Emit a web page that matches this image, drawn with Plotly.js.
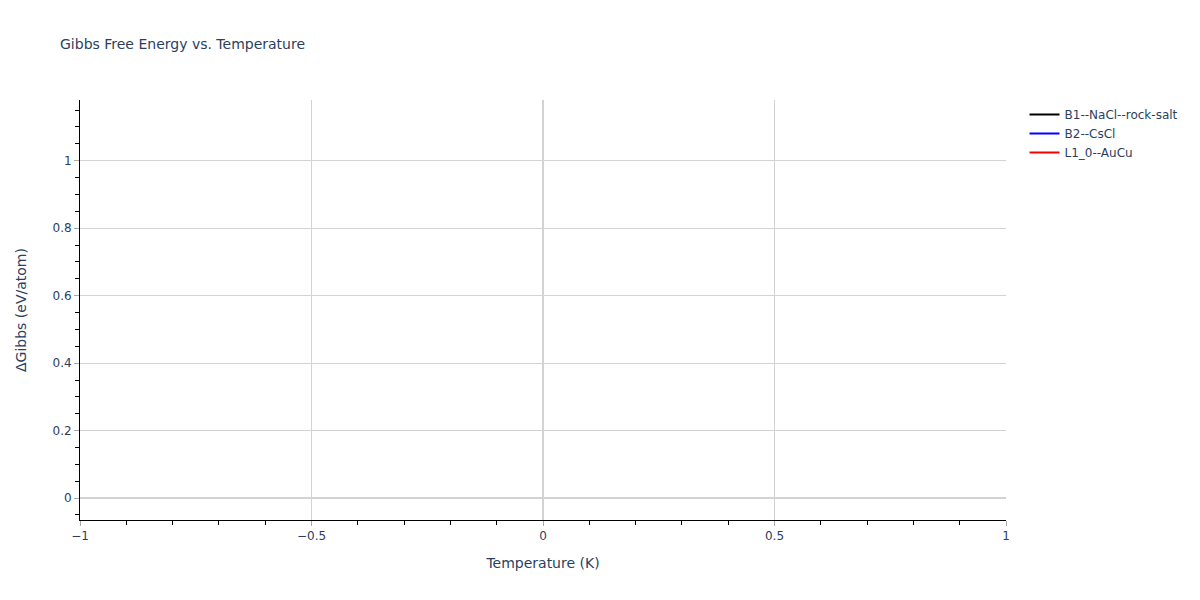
<!DOCTYPE html>
<html>
<head>
<meta charset="utf-8">
<script src="https://cdn.plot.ly/plotly-3.0.1.min.js"></script>
<style>body{margin:0}</style>
</head>
<body>
<div id="chart" style="width:1200px;height:600px"></div>
<script>
// phases and their (empty) curves
var phases = ['B1--NaCl--rock-salt', 'B2--CsCl', 'L1_0--AuCu'];
var colors = ['black', 'blue', 'red'];
var temps = [[0], [0], [0]];
var gibbs = [[0], [0], [0]];

var data = phases.map(function (name, i) {
    return {
        x: temps[i],
        y: gibbs[i],
        name: name,
        type: 'scatter',
        mode: 'lines',
        line: { color: colors[i], width: 2 }
    };
});

var axisStyle = {
    showline: true,
    linecolor: 'black',
    linewidth: 1,
    ticks: 'outside',
    tickcolor: '#aaa',
    ticklen: 5,
    gridcolor: 'lightgray',
    zeroline: true,
    zerolinecolor: 'lightgray',
    zerolinewidth: 2
};

var layout = {
    font: { family: 'Verdana, "DejaVu Sans", sans-serif', size: 12, color: '#2a3f5f' },
    title: { text: 'Gibbs Free Energy vs. Temperature', x: 0.05, y: 0.935, font: { size: 14 } },
    plot_bgcolor: 'white',
    paper_bgcolor: 'white',
    margin: { l: 80, r: 194, t: 100, b: 80 },
    xaxis: Object.assign({}, axisStyle, {
        title: { text: 'Temperature (K)', font: { size: 14 }, standoff: 15 },
        range: [-1, 1],
        dtick: 0.5,
        minor: { dtick: 0.1, ticks: 'outside', ticklen: 4, tickcolor: 'black', showgrid: false }
    }),
    yaxis: Object.assign({}, axisStyle, {
        title: { text: 'ΔGibbs (eV/atom)', font: { size: 14 }, standoff: 22 },
        range: [-0.065, 1.18],
        dtick: 0.2,
        minor: { dtick: 0.05, ticks: 'outside', ticklen: 4, tickcolor: 'black', showgrid: false }
    }),
    legend: { x: 1.02, y: 1 }
};

Plotly.newPlot('chart', data, layout, { displayModeBar: false });
</script>
</body>
</html>
